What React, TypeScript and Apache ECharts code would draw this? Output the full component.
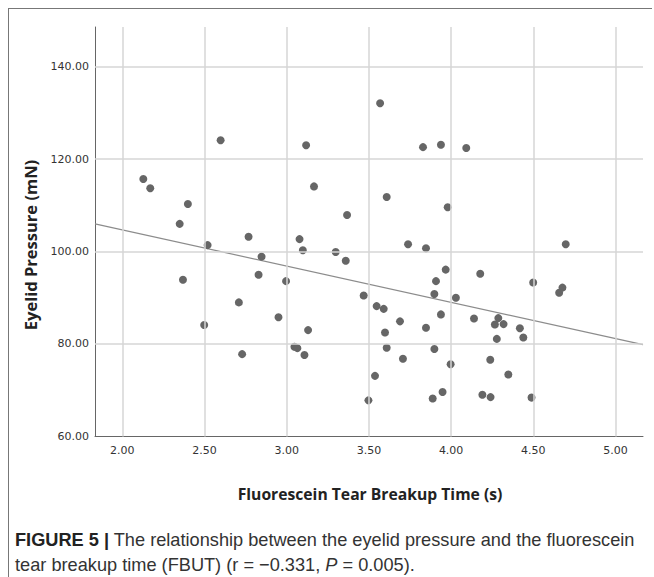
import React, { useEffect, useRef } from 'react';
import * as echarts from 'echarts';

const fbut = [
  2.598, 2.128, 2.17, 2.399, 2.349, 2.768, 2.519, 2.847, 3.568, 3.118,
  3.829, 3.938, 4.092, 3.166, 3.608, 3.367, 3.979, 3.078, 3.098, 3.298,
  3.359, 3.738, 3.847, 4.697, 2.369, 2.829, 2.709, 2.95, 2.498, 2.729,
  2.996, 3.13, 3.047, 3.065, 3.108, 3.468, 3.547, 3.59, 3.689, 3.598,
  3.608, 3.707, 3.537, 3.497, 3.967, 3.908, 3.898, 4.029, 3.938, 3.847,
  3.898, 3.997, 3.948, 3.888, 4.177, 4.499, 4.677, 4.657, 4.139, 4.287,
  4.266, 4.319, 4.418, 4.278, 4.439, 4.238, 4.348, 4.19, 4.24, 4.489,
];
const pressure = [
  124.1, 115.7, 113.7, 110.3, 106.0, 103.2, 101.4, 98.9, 132.1, 123.0,
  122.6, 123.1, 122.4, 114.1, 111.8, 107.9, 109.6, 102.7, 100.3, 99.9,
  98.0, 101.6, 100.7, 101.6, 93.9, 95.0, 89.0, 85.8, 84.1, 77.8,
  93.6, 83.0, 79.4, 79.1, 77.6, 90.5, 88.2, 87.6, 84.9, 82.5,
  79.2, 76.8, 73.1, 67.8, 96.1, 93.6, 90.8, 90.0, 86.4, 83.5,
  78.9, 75.6, 69.6, 68.2, 95.2, 93.3, 92.2, 91.1, 85.5, 85.6,
  84.2, 84.3, 83.4, 81.1, 81.4, 76.6, 73.4, 69.0, 68.5, 68.4,
];
const fitX = [1.834, 5.167];
const fitY = [106.0, 79.85];
const xTicks = [2.0, 2.5, 3.0, 3.5, 4.0, 4.5, 5.0];
const yTicks = [60, 80, 100, 120, 140];

const xTitle = 'Fluorescein Tear Breakup Time (s)';
const yTitle = 'Eyelid Pressure (mN)';
const captionLine1 = 'The relationship between the eyelid pressure and the fluorescein';
const captionLine2a = 'tear breakup time (FBUT) (r = \u22120.331, ';
const captionLine2b = ' = 0.005).';

export default function App() {
  const ref = useRef<HTMLDivElement>(null);
  useEffect(() => {
    if (!ref.current) return;
    const chart = echarts.init(ref.current, null, { renderer: 'svg' });
    const gridColor = '#d6d6d6';
    const capSize = 18.2;
    chart.setOption({
      animation: false,
      backgroundColor: '#ffffff',
      grid: { left: 95, right: 11, top: 27, bottom: 140.6, containLabel: false },
      xAxis: {
        type: 'value',
        min: 1.834,
        max: 5.167,
        axisLine: { show: true, lineStyle: { color: '#666', width: 1 } },
        axisTick: { show: false },
        splitLine: { show: false },
        axisLabel: {
          customValues: xTicks,
          formatter: (v: number) => v.toFixed(2),
          color: '#333',
          fontSize: 11,
          fontFamily: 'DejaVu Sans',
          margin: 9,
        },
      },
      yAxis: {
        type: 'value',
        min: 60,
        max: 148.6,
        axisLine: { show: true, lineStyle: { color: '#666', width: 1 } },
        axisTick: { show: false },
        splitLine: { show: false },
        axisLabel: {
          customValues: yTicks,
          formatter: (v: number) => v.toFixed(2),
          color: '#333',
          fontSize: 11,
          fontFamily: 'DejaVu Sans',
          margin: 6,
        },
      },
      series: [
        {
          type: 'line',
          data: [],
          z: 0,
          silent: true,
          markLine: {
            silent: true,
            symbol: ['none', 'none'],
            label: { show: false },
            lineStyle: { color: gridColor, width: 1.5, type: 'solid' },
            emphasis: { disabled: true },
            data: [
              ...xTicks.map((v) => ({ xAxis: v })),
              ...yTicks.filter((v) => v > 60).map((v) => ({ yAxis: v })),
            ],
          },
        },
        {
          type: 'line',
          data: fitX.map((x, i) => [x, fitY[i]]),
          symbol: 'none',
          z: 2,
          silent: true,
          lineStyle: { color: '#8c8c8c', width: 1.2 },
        },
        {
          type: 'scatter',
          data: fbut.map((x, i) => [x, pressure[i]]),
          symbol: 'circle',
          symbolSize: 8,
          z: 3,
          itemStyle: { color: '#666666', opacity: 1 },
        },
      ],
      graphic: [
        { type: 'line', shape: { x1: 8.5, y1: 8, x2: 8.5, y2: 577 }, style: { stroke: '#777', lineWidth: 1 } },
        { type: 'line', shape: { x1: 8, y1: 8.5, x2: 652, y2: 8.5 }, style: { stroke: '#777', lineWidth: 1 } },
        {
          type: 'text',
          x: 30,
          y: 245,
          rotation: Math.PI / 2,
          style: {
            text: yTitle,
            fontFamily: 'Open Sans',
            fontWeight: 'bold',
            fontSize: 16.5,
            fill: '#222',
            align: 'center',
            verticalAlign: 'middle',
          },
        },
        {
          type: 'text',
          x: 370,
          y: 494,
          style: {
            text: xTitle,
            fontFamily: 'Open Sans',
            fontWeight: 'bold',
            fontSize: 15.7,
            fill: '#222',
            align: 'center',
            verticalAlign: 'middle',
          },
        },
        {
          type: 'text',
          x: 15,
          y: 527,
          style: {
            text: '{b|FIGURE 5 |} ' + captionLine1 + '\n' + captionLine2a + '{i|P}' + captionLine2b,
            fontFamily: 'Liberation Sans',
            fontSize: capSize,
            lineHeight: 25,
            fill: '#333',
            align: 'left',
            verticalAlign: 'top',
            rich: {
              b: { fontFamily: 'Liberation Sans', fontWeight: 'bold', fontSize: capSize, fill: '#222', lineHeight: 25 },
              i: { fontFamily: 'Liberation Sans', fontStyle: 'italic', fontSize: capSize, fill: '#333', lineHeight: 25 },
            },
          },
        },
      ],
    });
    return () => chart.dispose();
  }, []);
  return (
    <div
      ref={ref}
      style={{ position: 'fixed', left: 0, top: 0, width: 654, height: 577 }}
    />
  );
}
